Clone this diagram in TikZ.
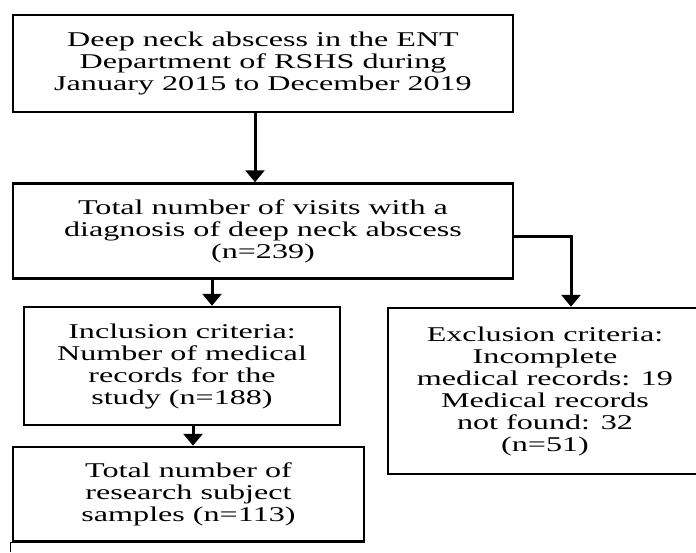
\documentclass[tikz,border=0pt]{standalone}
\usepackage{fontspec}
\setmainfont{Liberation Serif}[FakeStretch=1.53]
\usetikzlibrary{arrows.meta,positioning}

\begin{document}
\begin{tikzpicture}[x=1pt,y=-1pt,
  every node/.style={font=\fontsize{21pt}{22pt}\selectfont},
  box/.style={draw,line width=2.5pt,align=center,inner sep=0pt},
  arr/.style={-{Triangle[length=12pt,width=19pt]},line width=3pt}]
  \useasboundingbox (0,0) rectangle (696,552);
  \node[box,minimum width=500pt,minimum height=97pt] (source) at (263,63.5) {Deep neck abscess in the ENT\\Department of RSHS during\\January 2015 to December 2019};
  \node[box,minimum width=500pt,minimum height=95pt] (visits) at (263,231) {Total number of visits with a\\diagnosis of deep neck abscess\\(n=239)};
  \node[box,minimum width=316pt,minimum height=118pt] (incl) at (182,366) {Inclusion criteria:\\Number of medical\\records for the\\study (n=188)};
  \node[box,minimum width=314pt,minimum height=166pt] (excl) at (545,391) {Exclusion criteria:\\Incomplete\\medical records: 19\\Medical records\\not found: 32\\(n=51)};
  \node[box,minimum width=351pt,minimum height=94pt] (sample) at (188.5,494) {Total number of\\research subject\\samples (n=113)};
  % connectors
  \coordinate (a1) at ([xshift=-8pt]source.south);
  \coordinate (a2) at ([xshift=30pt]incl.north);
  \coordinate (a3) at ([xshift=26pt]excl.north);
  \coordinate (a4) at ([xshift=11pt]incl.south);
  \draw[arr] (a1) -- (a1 |- visits.north);
  \draw[arr] (a2 |- visits.south) -- (a2);
  \draw[arr] ([yshift=-5pt]visits.east) -| (a3);
  \draw[arr] (a4) -- (a4 |- sample.north);
  % edge of the next box, cut off
  \coordinate (cut) at (10,552);
  \draw[line width=1pt] (cut) |- (sample.south east);
\end{tikzpicture}
\end{document}
